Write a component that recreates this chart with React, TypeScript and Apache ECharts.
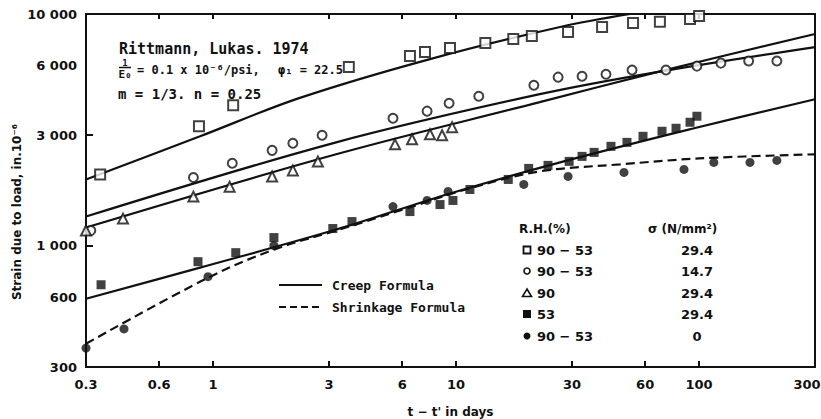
import React, { useEffect, useRef } from "react";
import * as echarts from "echarts";

// Axis ticks and labels (log-log, days vs. strain 10^-6)
const xTickValues = [0.6, 1, 3, 6, 10, 30, 60, 100];
const xLabelValues = [0.3, 0.6, 1, 3, 6, 10, 30, 60, 100, 300];
const yTickValues = [1000, 3000];
const yLabelValues = [300, 600, 1000, 3000, 6000, 10000];

// Measured strains [t - t' (days), strain 10^-6]
const openSquares: [number, number][] = [
  [0.343, 2030], [0.875, 3280], [1.21, 4040], [3.62, 5900], [6.46, 6590],
  [7.45, 6860], [9.44, 7130], [13.2, 7500], [17.2, 7800], [20.5, 8040],
  [28.9, 8360], [39.9, 8790], [53.5, 9150], [69, 9250], [91.8, 9520], [100, 9810],
];
const openCircles: [number, number][] = [
  [0.314, 1163], [0.83, 1970], [1.2, 2270], [1.75, 2580], [2.13, 2770],
  [2.81, 3000], [5.5, 3550], [7.6, 3810], [9.36, 4120], [12.4, 4420],
  [20.9, 4930], [26.3, 5340], [33, 5390], [41.4, 5500], [53, 5730],
  [73.1, 5730], [98, 5960], [123, 6140], [160, 6270], [209, 6270],
];
const openTriangles: [number, number][] = [
  [0.3, 1163], [0.426, 1310], [0.83, 1630], [1.17, 1800], [1.75, 1990],
  [2.13, 2115], [2.7, 2310], [5.61, 2740], [6.59, 2880], [7.81, 3030],
  [8.76, 3000], [9.63, 3250],
];
const filledSquares: [number, number][] = [
  [0.346, 679], [0.867, 854], [1.24, 934], [1.78, 1085], [3.11, 1187],
  [3.73, 1272], [6.46, 1405], [8.59, 1506], [9.71, 1569], [11.4, 1750],
  [16.4, 1933], [19.9, 2157], [23.9, 2223], [29.2, 2313], [33, 2431],
  [37, 2529], [43.4, 2686], [50.5, 2794], [58.8, 2967], [70.4, 3120],
  [80.4, 3214], [91.8, 3412], [98, 3622],
];
const filledCircles: [number, number][] = [
  [0.3, 362], [0.43, 438], [0.953, 736], [1.78, 1002], [5.5, 1477],
  [7.6, 1569], [9.27, 1715], [19, 1839], [28.9, 1992], [49.1, 2073],
  [86.7, 2135], [115, 2290], [162, 2290], [209, 2336],
];

// Formula curves
const creepSquares: [number, number][] = [
  [0.3, 1933], [0.884, 2968], [2.26, 4335], [7.81, 6390], [26.8, 8790], [52, 10000],
];
const creepCircles: [number, number][] = [
  [0.3, 1337], [3.21, 2794], [22.1, 4510], [67.1, 5617], [300, 7200],
];
const creepTriangles: [number, number][] = [
  [0.3, 1199], [3.21, 2482], [22.1, 4165], [67.1, 5617], [300, 8200],
];
const creepFilledSquares: [number, number][] = [
  [0.3, 591], [0.884, 805], [3.21, 1175], [9.44, 1682], [26.8, 2290], [91.8, 3181], [300, 4290],
];
const shrinkage: [number, number][] = [
  [0.3, 378], [0.953, 728], [1.78, 963], [3.21, 1163], [5.88, 1420],
  [11.4, 1770], [22.1, 2094], [47.3, 2245], [100, 2382], [300, 2482],
];

// Key table
const rhLabels = ["90 \u2212 53", "90 \u2212 53", "90", "53", "90 \u2212 53"];
const stressLabels = ["29.4", "14.7", "29.4", "29.4", "0"];

const INK = "#111";
const SANS = "DejaVu Sans, Liberation Sans, sans-serif";
const MONO = "DejaVu Sans Mono, Liberation Mono, monospace";

function fmtY(v: number): string {
  if (v >= 1000) {
    const th = Math.floor(v / 1000);
    return th + " 000";
  }
  return String(v);
}

function curve(name: string, data: [number, number][], dashed = false) {
  return {
    name,
    type: "line",
    data,
    smooth: 0.35,
    symbol: "none",
    silent: true,
    z: 2,
    lineStyle: { color: INK, width: 2.2, type: dashed ? [9, 5] : "solid" },
  };
}

function marks(name: string, data: [number, number][], symbol: string, size: number, filled: boolean) {
  return {
    name,
    type: "scatter",
    data,
    symbol,
    symbolSize: size,
    z: 3,
    itemStyle: {
      color: filled ? INK : "#fff",
      borderColor: INK,
      borderWidth: filled ? 0 : 2,
    },
  };
}

export default function App() {
  const ref = useRef<HTMLDivElement>(null);

  useEffect(() => {
    document.body.style.margin = "0";
    if (!ref.current) return;
    const chart = echarts.init(ref.current, undefined, { renderer: "svg" });

    const keyRows = [250, 271, 293, 314, 336];
    const keyMarkers: any[] = [
      { type: "rect", shape: { x: 523.5, y: keyRows[0] - 3.5, width: 7, height: 7 }, style: { fill: "#fff", stroke: INK, lineWidth: 1.8 } },
      { type: "circle", shape: { cx: 527, cy: keyRows[1], r: 3 }, style: { fill: "#fff", stroke: INK, lineWidth: 1.6 } },
      { type: "polygon", shape: { points: [[527, keyRows[2] - 4], [531.5, keyRows[2] + 3.5], [522.5, keyRows[2] + 3.5]] }, style: { fill: "#fff", stroke: INK, lineWidth: 1.6 } },
      { type: "rect", shape: { x: 523, y: keyRows[3] - 4, width: 8, height: 8 }, style: { fill: INK } },
      { type: "circle", shape: { cx: 527, cy: keyRows[4], r: 3.5 }, style: { fill: INK } },
    ];
    const keyTexts: any[] = [];
    rhLabels.forEach((t, i) => {
      keyTexts.push({ type: "text", x: 537, y: keyRows[i], style: { text: t, font: `bold 13px ${SANS}`, fill: INK, align: "left", verticalAlign: "middle" } });
    });
    stressLabels.forEach((t, i) => {
      keyTexts.push({ type: "text", x: 697, y: keyRows[i], style: { text: t, font: `bold 13px ${SANS}`, fill: INK, align: "center", verticalAlign: "middle" } });
    });

    const labelFont = { fontFamily: SANS, fontWeight: "bold", fontSize: 13, color: INK };

    const option: any = {
      animation: false,
      backgroundColor: "#fff",
      textStyle: { fontFamily: SANS },
      grid: { left: 86, right: 6, top: 14, bottom: 52, show: false, outerBoundsMode: "none", containLabel: false },
      xAxis: [
        {
          type: "log",
          logBase: 10,
          min: 0.3,
          max: 300,
          position: "bottom",
          name: "t \u2212 t' in days",
          nameLocation: "middle",
          nameGap: 39,
          nameTextStyle: { fontFamily: SANS, fontWeight: "bold", fontSize: 12, color: INK },
          axisLine: { show: true, lineStyle: { color: INK, width: 2 } },
          axisTick: { show: true, inside: true, length: 6, customValues: xTickValues, lineStyle: { color: INK, width: 2 } },
          axisLabel: {
            customValues: xLabelValues,
            // the last label sits at the right border; nudge it inward
            formatter: (v: number) => (v >= 300 ? "{edge|" + v + "}" : String(v)),
            margin: 11,
            ...labelFont,
            rich: { edge: { ...labelFont, padding: [0, 16, 0, 0] } },
          },
          splitLine: { show: false },
          minorTick: { show: false },
        },
        {
          type: "log",
          logBase: 10,
          min: 0.3,
          max: 300,
          position: "top",
          axisLine: { show: true, lineStyle: { color: INK, width: 2 } },
          axisTick: { show: true, inside: true, length: 5, customValues: xTickValues, lineStyle: { color: INK, width: 2 } },
          axisLabel: { show: false },
          splitLine: { show: false },
        },
      ],
      yAxis: [
        {
          type: "log",
          logBase: 10,
          min: 300,
          max: 10000,
          position: "left",
          axisLine: { show: true, lineStyle: { color: INK, width: 2 } },
          axisTick: { show: true, inside: true, length: 7, customValues: yTickValues, lineStyle: { color: INK, width: 2 } },
          axisLabel: {
            customValues: yLabelValues,
            formatter: (v: number) => fmtY(v),
            margin: 9,
            ...labelFont,
          },
          splitLine: { show: false },
        },
        {
          type: "log",
          logBase: 10,
          min: 300,
          max: 10000,
          position: "right",
          axisLine: { show: true, lineStyle: { color: INK, width: 2 } },
          axisTick: { show: false },
          axisLabel: { show: false },
          splitLine: { show: false },
        },
      ],
      series: [
        curve("Creep 90-53 / 29.4", creepSquares),
        curve("Creep 90-53 / 14.7", creepCircles),
        curve("Creep 90 / 29.4", creepTriangles),
        curve("Creep 53 / 29.4", creepFilledSquares),
        curve("Shrinkage", shrinkage, true),
        marks("90-53, 29.4", openSquares, "rect", 10, false),
        marks("90-53, 14.7", openCircles, "circle", 9, false),
        marks("90, 29.4", openTriangles, "triangle", 10, false),
        marks("53, 29.4", filledSquares, "rect", 9, true),
        marks("90-53, 0", filledCircles, "circle", 9, true),
      ],
      graphic: [
        // vertical axis title
        {
          type: "text",
          x: 17,
          y: 212,
          rotation: Math.PI / 2,
          style: { text: "Strain due to load, in.10\u207B\u2076", font: `bold 12px ${SANS}`, fill: INK, align: "center", verticalAlign: "middle" },
        },
        // model parameters
        { type: "text", x: 119, y: 49, style: { text: "Rittmann, Lukas. 1974", font: `bold 15px ${MONO}`, fill: INK, align: "left", verticalAlign: "middle" } },
        { type: "text", x: 125, y: 63, style: { text: "1", font: `bold 9px ${MONO}`, fill: INK, align: "center", verticalAlign: "middle" } },
        { type: "line", shape: { x1: 119, y1: 67.5, x2: 131, y2: 67.5 }, style: { stroke: INK, lineWidth: 1.5 } },
        { type: "text", x: 125, y: 74, style: { text: "E\u2080", font: `bold 11px ${MONO}`, fill: INK, align: "center", verticalAlign: "middle" } },
        { type: "text", x: 137, y: 70, style: { text: "= 0.1 x 10\u207B\u2076/psi,", font: `bold 12px ${MONO}`, fill: INK, align: "left", verticalAlign: "middle" } },
        { type: "text", x: 278, y: 70, style: { text: "\u03C6\u2081 = 22.5", font: `bold 12px ${MONO}`, fill: INK, align: "left", verticalAlign: "middle" } },
        { type: "text", x: 118, y: 94, style: { text: "m = 1/3. n = 0.25", font: `bold 14px ${MONO}`, fill: INK, align: "left", verticalAlign: "middle" } },
        // line key
        { type: "line", shape: { x1: 279, y1: 285, x2: 322, y2: 285 }, style: { stroke: INK, lineWidth: 2 } },
        { type: "line", shape: { x1: 279, y1: 307, x2: 322, y2: 307 }, style: { stroke: INK, lineWidth: 2, lineDash: [7, 4] } },
        { type: "text", x: 332, y: 285, style: { text: "Creep Formula", font: `bold 13px ${MONO}`, fill: INK, align: "left", verticalAlign: "middle" } },
        { type: "text", x: 332, y: 307, style: { text: "Shrinkage Formula", font: `bold 13px ${MONO}`, fill: INK, align: "left", verticalAlign: "middle" } },
        // symbol key
        { type: "text", x: 519, y: 229, style: { text: "R.H.(%)", font: `bold 12px ${SANS}`, fill: INK, align: "left", verticalAlign: "middle" } },
        { type: "text", x: 648, y: 229, style: { text: "\u03C3 (N/mm\u00B2)", font: `bold 12px ${SANS}`, fill: INK, align: "left", verticalAlign: "middle" } },
        ...keyMarkers,
        ...keyTexts,
      ],
    };

    chart.setOption(option);
    return () => chart.dispose();
  }, []);

  return <div ref={ref} style={{ width: 821, height: 419 }} />;
}
